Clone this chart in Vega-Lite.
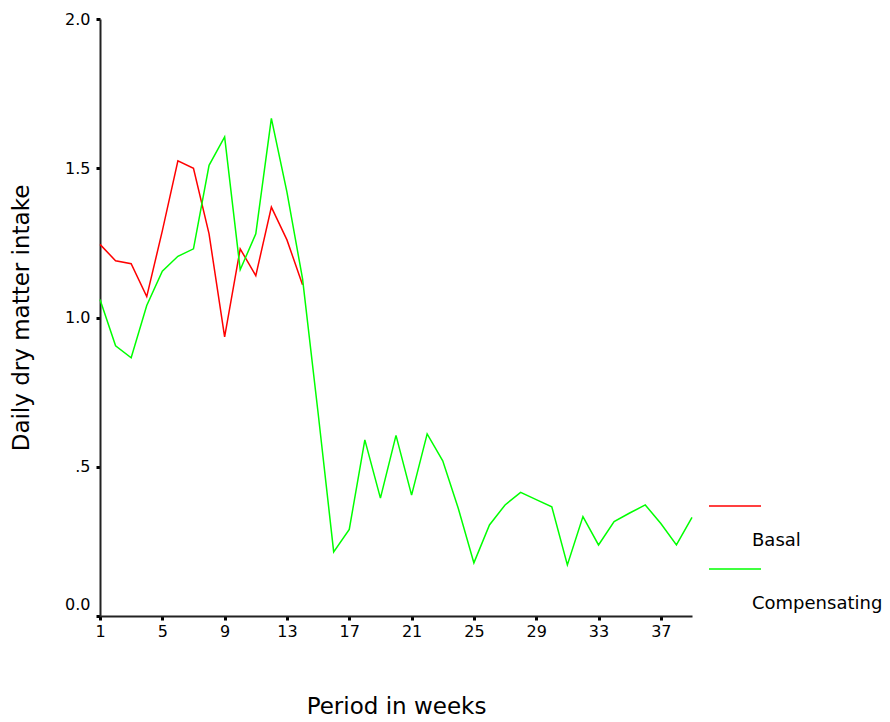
{
  "$schema": "https://vega.github.io/schema/vega-lite/v6.json",
  "width": 592,
  "height": 597,
  "autosize": "none",
  "padding": {"left": 100, "top": 19, "right": 198, "bottom": 106},
  "background": "white",
  "config": {"view": {"stroke": null}},
  "data": {"values": [
    {"week": 1, "value": 1.245, "group": "Basal"},
    {"week": 2, "value": 1.19, "group": "Basal"},
    {"week": 3, "value": 1.18, "group": "Basal"},
    {"week": 4, "value": 1.07, "group": "Basal"},
    {"week": 5, "value": 1.29, "group": "Basal"},
    {"week": 6, "value": 1.525, "group": "Basal"},
    {"week": 7, "value": 1.5, "group": "Basal"},
    {"week": 8, "value": 1.28, "group": "Basal"},
    {"week": 9, "value": 0.935, "group": "Basal"},
    {"week": 10, "value": 1.23, "group": "Basal"},
    {"week": 11, "value": 1.14, "group": "Basal"},
    {"week": 12, "value": 1.37, "group": "Basal"},
    {"week": 13, "value": 1.26, "group": "Basal"},
    {"week": 14, "value": 1.11, "group": "Basal"},
    {"week": 1, "value": 1.06, "group": "Compensating"},
    {"week": 2, "value": 0.905, "group": "Compensating"},
    {"week": 3, "value": 0.865, "group": "Compensating"},
    {"week": 4, "value": 1.04, "group": "Compensating"},
    {"week": 5, "value": 1.155, "group": "Compensating"},
    {"week": 6, "value": 1.205, "group": "Compensating"},
    {"week": 7, "value": 1.23, "group": "Compensating"},
    {"week": 8, "value": 1.51, "group": "Compensating"},
    {"week": 9, "value": 1.605, "group": "Compensating"},
    {"week": 10, "value": 1.16, "group": "Compensating"},
    {"week": 11, "value": 1.28, "group": "Compensating"},
    {"week": 12, "value": 1.667, "group": "Compensating"},
    {"week": 13, "value": 1.42, "group": "Compensating"},
    {"week": 14, "value": 1.13, "group": "Compensating"},
    {"week": 15, "value": 0.68, "group": "Compensating"},
    {"week": 16, "value": 0.215, "group": "Compensating"},
    {"week": 17, "value": 0.29, "group": "Compensating"},
    {"week": 18, "value": 0.59, "group": "Compensating"},
    {"week": 19, "value": 0.395, "group": "Compensating"},
    {"week": 20, "value": 0.605, "group": "Compensating"},
    {"week": 21, "value": 0.405, "group": "Compensating"},
    {"week": 22, "value": 0.61, "group": "Compensating"},
    {"week": 23, "value": 0.52, "group": "Compensating"},
    {"week": 24, "value": 0.36, "group": "Compensating"},
    {"week": 25, "value": 0.178, "group": "Compensating"},
    {"week": 26, "value": 0.305, "group": "Compensating"},
    {"week": 27, "value": 0.372, "group": "Compensating"},
    {"week": 28, "value": 0.414, "group": "Compensating"},
    {"week": 29, "value": 0.39, "group": "Compensating"},
    {"week": 30, "value": 0.366, "group": "Compensating"},
    {"week": 31, "value": 0.171, "group": "Compensating"},
    {"week": 32, "value": 0.333, "group": "Compensating"},
    {"week": 33, "value": 0.238, "group": "Compensating"},
    {"week": 34, "value": 0.316, "group": "Compensating"},
    {"week": 35, "value": 0.345, "group": "Compensating"},
    {"week": 36, "value": 0.372, "group": "Compensating"},
    {"week": 37, "value": 0.31, "group": "Compensating"},
    {"week": 38, "value": 0.238, "group": "Compensating"},
    {"week": 39, "value": 0.33, "group": "Compensating"}
  ]},
  "mark": {"type": "line", "strokeWidth": 1.5},
  "encoding": {
    "x": {
      "field": "week", "type": "quantitative",
      "scale": {"domain": [1, 39], "nice": false, "zero": false},
      "axis": {
        "title": "Period in weeks",
        "values": [1, 5, 9, 13, 17, 21, 25, 29, 33, 37],
        "grid": false,
        "domainColor": "#222", "domainWidth": 2,
        "tickColor": "#000", "tickSize": 4, "tickWidth": 3,
        "labelFont": "DejaVu Sans", "labelFontSize": 16, "labelColor": "#000", "labelPadding": 3,
        "labelFlush": false,
        "titleFont": "DejaVu Sans", "titleFontSize": 23, "titleFontWeight": "normal", "titleColor": "#000",
        "titlePadding": 56
      }
    },
    "y": {
      "field": "value", "type": "quantitative",
      "scale": {"domain": [0, 2], "nice": false},
      "axis": {
        "title": "Daily dry matter intake",
        "values": [0, 0.5, 1, 1.5, 2],
        "labelExpr": "datum.value == 0.5 ? '.5' : format(datum.value, '.1f')",
        "grid": false,
        "domainColor": "#222", "domainWidth": 2,
        "tickColor": "#000", "tickSize": 4, "tickWidth": 3,
        "labelFont": "DejaVu Sans", "labelFontSize": 16, "labelColor": "#000", "labelPadding": 6,
        "labelFlush": false,
        "labelOffset": {"condition": {"test": "datum.value === 0", "value": -12}, "value": 0},
        "titleFont": "DejaVu Sans", "titleFontSize": 23, "titleFontWeight": "normal", "titleColor": "#000",
        "titlePadding": 31
      }
    },
    "color": {
      "field": "group", "type": "nominal",
      "scale": {"domain": ["Basal", "Compensating"], "range": ["#ff0000", "#00ff00"]},
      "legend": {
        "title": null,
        "orient": "none",
        "legendX": 608,
        "legendY": 468,
        "padding": 0,
        "symbolType": "stroke",
        "symbolSize": 2704,
        "symbolStrokeWidth": 1.5,
        "labelFont": "DejaVu Sans",
        "labelFontSize": 18,
        "labelColor": "#000",
        "labelOffset": -10,
        "rowPadding": 0,
        "clipHeight": 38,
        "encode": {"labels": {"update": {"dy": {"value": 35}}}}
      }
    }
  }
}
